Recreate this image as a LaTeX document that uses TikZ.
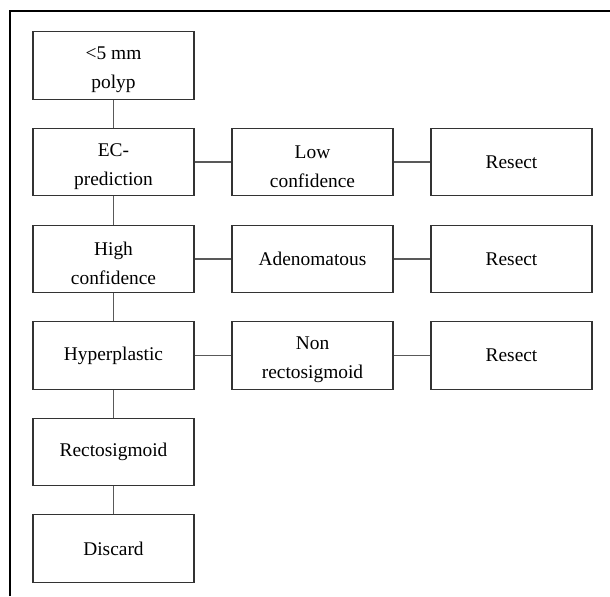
\documentclass[tikz,border=0pt]{standalone}
\usepackage{fontspec}
\setmainfont{Liberation Serif}
\usetikzlibrary{positioning}

% extra room above the first line of two-line boxes
\newcommand{\topgap}{\rule{0pt}{11pt}}

\begin{document}
\begin{tikzpicture}[
    x=0.5pt, y=-0.5pt,
    % --- Box styles ---
    stepbox/.style={draw=black!80, line width=0.55pt, minimum width=80.5pt,
                    minimum height=33.75pt, inner sep=0pt, align=center,
                    font=\fontsize{9.7}{14.5}\selectfont},
    % --- Edge styles ---
    link/.style={draw=black!65, line width=0.55pt},
    frame line/.style={draw=black, line width=0.8pt},
]
\useasboundingbox (0,0) rectangle (610,596);

% --- Outer frame (top and left only) ---
\draw[frame line] (10,596) -- (10,11) -- (610,11);

% ============================================================
% Main column
% ============================================================
\node[stepbox] (polyp)   at (113.5, 65.5)  {\topgap<5 mm\\polyp};
\node[stepbox] (ecpred)  at (113.5, 162)   {\topgap EC-\\prediction};
\node[stepbox] (highc)   at (113.5, 259)   {\topgap High\\confidence};
\node[stepbox] (hyper)   at (113.5, 355.5) {Hyperplastic};
\node[stepbox] (recto)   at (113.5, 452)   {Rectosigmoid};
\node[stepbox] (discard) at (113.5, 548.5) {Discard};

% --- Side branches ---
\node[stepbox] (lowc)    at (312.5, 162)   {\topgap Low\\confidence};
\node[stepbox] (adeno)   at (312.5, 259)   {Adenomatous};
\node[stepbox] (nonrect) at (312.5, 355.5) {\topgap Non\\rectosigmoid};

\node[stepbox] (res1)    at (511.5, 162)   {Resect};
\node[stepbox] (res2)    at (511.5, 259)   {Resect};
\node[stepbox] (res3)    at (511.5, 355.5) {Resect};

% --- Connectors ---
\foreach \a/\b in {polyp/ecpred, ecpred/highc, highc/hyper, hyper/recto, recto/discard}
  \draw[link] (\a.south) -- (\b.north);
\foreach \a/\b in {ecpred/lowc, lowc/res1, highc/adeno, adeno/res2, hyper/nonrect, nonrect/res3}
  \draw[link] (\a.east) -- (\b.west);

\end{tikzpicture}
\end{document}
